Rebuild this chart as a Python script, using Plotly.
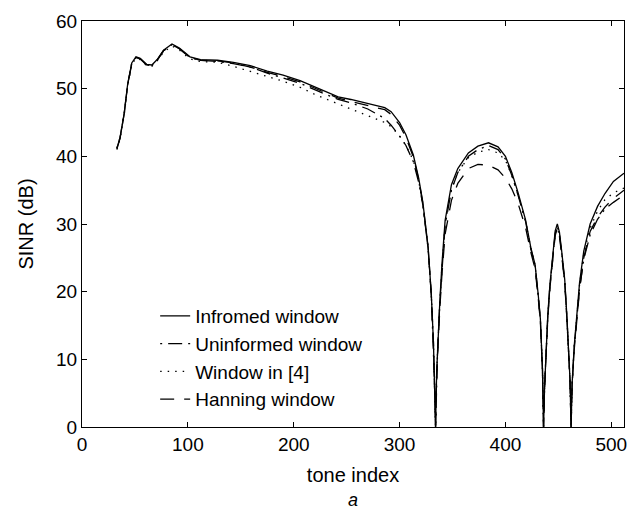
import plotly.graph_objects as go

tone = [33, 36, 40, 43, 47, 51, 55, 61, 66, 71, 77, 85, 92, 102, 112, 128, 143, 159,
        175, 190, 206, 222, 242, 254, 270, 286, 292, 300, 306, 313, 318, 322, 327, 330,
        332, 333, 334, 335, 336, 338, 340, 343, 349, 355, 365, 374, 384, 393, 400, 406,
        412, 419, 424, 428, 431, 433, 435, 436, 437, 438, 440, 442, 445, 447, 449, 451,
        453, 456, 458, 460, 461, 462, 463, 465, 467, 470, 474, 480, 487, 494, 502, 512]

informed = [41.2, 42.8, 46.5, 50.5, 53.8, 54.7, 54.5, 53.6, 53.5, 54.3, 55.7, 56.6, 56.0, 54.7,
            54.3, 54.2, 53.9, 53.4, 52.6, 52.0, 51.2, 50.1, 48.8, 48.4, 47.8, 47.2, 46.6, 45.0,
            43.2, 40.2, 36.8, 33.2, 26.5, 19.5, 12.5, 6.5, 0.0, 8.0, 11.8, 18.5, 24.0, 30.5,
            35.8, 38.2, 40.5, 41.5, 42.0, 41.4, 40.0, 37.6, 34.6, 30.6, 26.5, 24.0, 19.5, 16.0,
            8.5, 0.0, 6.0, 10.5, 16.5, 21.0, 26.0, 29.0, 30.0, 28.8, 26.2, 21.8, 16.5, 11.0,
            7.0, 0.0, 6.5, 12.0, 16.2, 21.3, 26.0, 30.0, 32.6, 34.5, 36.3, 37.5]

uninformed = [41.2, 42.8, 46.5, 50.5, 53.8, 54.6, 54.4, 53.5, 53.4, 54.2, 55.6, 56.5, 55.9, 54.6,
              54.2, 54.0, 53.7, 53.2, 52.3, 51.6, 50.8, 49.7, 48.4, 47.9, 47.0, 45.6, 44.6, 43.0,
              41.6, 39.2, 36.2, 32.8, 26.3, 19.4, 12.4, 6.5, 0.0, 8.0, 11.7, 18.3, 23.6, 29.8,
              35.0, 37.6, 40.0, 41.0, 41.6, 41.0, 39.6, 37.2, 34.2, 30.4, 26.3, 23.8, 19.4, 15.9,
              8.4, 0.0, 6.0, 10.4, 16.3, 20.8, 25.7, 28.6, 29.6, 28.5, 25.9, 21.6, 16.3, 10.9,
              6.9, 0.0, 6.4, 11.8, 15.8, 20.5, 24.8, 28.4, 30.7, 32.2, 33.2, 34.3]

window4 = [41.0, 42.6, 46.3, 50.3, 53.6, 54.5, 54.3, 53.4, 53.3, 54.1, 55.4, 56.3, 55.7, 54.4,
           54.0, 53.9, 53.3, 52.6, 51.8, 51.1, 50.2, 49.0, 47.7, 47.0, 46.0, 45.0, 44.4, 43.0,
           41.6, 39.4, 36.4, 32.9, 26.4, 19.4, 12.4, 6.4, 0.0, 7.9, 11.7, 18.3, 23.7, 30.0,
           35.2, 37.6, 39.8, 40.6, 41.0, 40.5, 39.4, 37.2, 34.3, 30.4, 26.4, 23.9, 19.4, 15.9,
           8.4, 0.0, 6.0, 10.4, 16.3, 20.8, 25.6, 28.5, 29.4, 28.3, 25.8, 21.5, 16.3, 10.9,
           6.9, 0.0, 6.4, 11.9, 16.0, 21.0, 25.6, 29.4, 31.9, 33.6, 34.6, 35.3]

hanning = [41.1, 42.7, 46.4, 50.4, 53.7, 54.6, 54.4, 53.5, 53.4, 54.2, 55.6, 56.5, 55.9, 54.6,
           54.2, 54.1, 53.8, 53.2, 52.4, 51.8, 51.0, 49.9, 48.6, 48.1, 47.5, 46.9, 46.2, 44.6,
           42.8, 39.9, 36.6, 33.0, 26.4, 19.4, 12.4, 6.4, 0.0, 7.6, 11.2, 17.5, 22.5, 28.5,
           33.5, 36.0, 38.2, 38.8, 38.7, 38.0, 36.8, 35.2, 33.0, 29.5, 25.8, 23.4, 19.0, 15.6,
           8.2, 0.0, 5.8, 10.2, 16.0, 20.5, 25.3, 28.3, 29.4, 28.2, 25.6, 21.3, 16.1, 10.8,
           6.8, 0.0, 6.2, 11.5, 15.5, 20.2, 25.0, 28.9, 31.0, 32.5, 33.8, 35.0]

series = [
    ("Infromed window", informed, "solid"),
    ("Uninformed window", uninformed, "2px,6px,14px,6px"),
    ("Window in [4]", window4, "1.5px,6px"),
    ("Hanning window", hanning, "14px,10px"),
]

FONT = "Liberation Sans, Arial, sans-serif"

fig = go.Figure()
for name, vals, dash in series:
    fig.add_trace(go.Scatter(x=tone, y=vals, mode="lines", name=name,
                             line=dict(color="black", width=1.3, dash=dash)))

axis_common = dict(showline=True, linecolor="black", linewidth=1.2, mirror="ticks",
                   ticks="inside", ticklen=5, tickcolor="black", tickwidth=1,
                   showgrid=False, zeroline=False,
                   tickfont=dict(family=FONT, size=19, color="black"))

fig.update_xaxes(range=[0, 512], tickvals=[0, 100, 200, 300, 400, 500],
                 title=dict(text="tone index", font=dict(family=FONT, size=20, color="black"),
                            standoff=14),
                 **axis_common)
fig.update_yaxes(range=[0, 60], tickvals=[0, 10, 20, 30, 40, 50, 60],
                 title=dict(text="SINR (dB)", font=dict(family=FONT, size=20, color="black"),
                            standoff=16),
                 **axis_common)

fig.add_annotation(text="<i>a</i>", xref="paper", yref="paper", x=0.5, y=-0.179,
                   showarrow=False, yanchor="middle",
                   font=dict(family=FONT, size=18, color="black"))

fig.update_layout(
    width=638, height=509,
    margin=dict(l=82, r=14, t=21, b=82),
    paper_bgcolor="white", plot_bgcolor="white",
    showlegend=True,
    legend=dict(x=0.135, y=0.32, xanchor="left", yanchor="top",
                bgcolor="rgba(255,255,255,0)", borderwidth=0,
                font=dict(family=FONT, size=19, color="black"),
                tracegroupgap=0, itemwidth=30),
)

fig.write_html("out.html")
